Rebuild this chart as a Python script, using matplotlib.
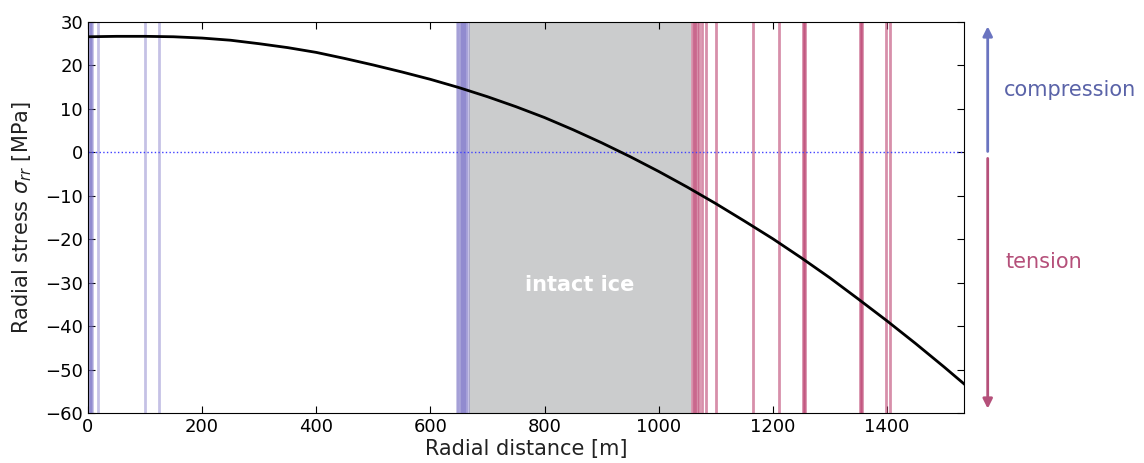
import numpy as np
import matplotlib
matplotlib.use('Agg')
import matplotlib.pyplot as plt

# stress profile
distance = [0, 50, 100, 150, 200, 250, 300, 350, 400, 450, 500, 550, 600, 650,
            700, 750, 800, 850, 900, 950, 1000, 1050, 1100, 1150, 1200, 1250,
            1300, 1350, 1400, 1450, 1500, 1535]
stress = [26.6, 26.7, 26.7, 26.6, 26.3, 25.8, 25.0, 24.1, 23.0, 21.6, 20.1,
          18.5, 16.8, 14.9, 12.8, 10.5, 8.0, 5.2, 2.2, -1.0, -4.4, -8.0,
          -11.8, -15.8, -19.9, -24.3, -28.9, -33.8, -38.8, -44.0, -49.4, -53.3]

# crevasse positions
compression_cracks = [1, 3, 5, 7, 17, 100, 125, 647, 649, 651, 653, 655, 657,
                      659, 661, 663, 666]
tension_cracks = [1058, 1061, 1064, 1067, 1070, 1075, 1082, 1101, 1166, 1211,
                  1252, 1255, 1257, 1353, 1355, 1357, 1398, 1406]
intact_start, intact_end = 668, 1057

blue = '#6e66c0'
red = '#bf4a76'

fig = plt.figure(figsize=(11.44, 4.63), dpi=100)
ax = fig.add_axes([0.0769, 0.108, 0.7658, 0.8445])

ax.axvspan(intact_start, intact_end, color='#cbcccd', lw=0)
for x in compression_cracks:
    ax.axvline(x, color=blue, alpha=0.4, lw=2)
for x in tension_cracks:
    ax.axvline(x, color=red, alpha=0.62, lw=2)

ax.axhline(0, color='#4040ff', ls=':', lw=1)
ax.plot(distance, stress, color='black', lw=2)

ax.text(862, -30.6, 'intact ice', color='white', fontsize=15,
        fontweight='bold', ha='center', va='center')

ax.set_xlim(0, 1535)
ax.set_ylim(-60, 30)
ax.set_xticks([0, 200, 400, 600, 800, 1000, 1200, 1400])
ax.set_yticks(np.arange(-60, 31, 10))
ax.tick_params(direction='in', top=True, right=True, labelsize=13, length=5)
ax.set_xlabel('Radial distance [m]', fontsize=15, color='#222222')
ax.set_ylabel(r'Radial stress $\sigma_{rr}$ [MPa]', fontsize=15, color='#222222')
ax.xaxis.labelpad = 2
ax.yaxis.labelpad = 8

# compression / tension arrows to the right of the axes
tr = ax.get_yaxis_transform()
ax.annotate('', xy=(1.027, 29.0), xytext=(1.027, 0.2), xycoords=tr,
            textcoords=tr, annotation_clip=False,
            arrowprops=dict(arrowstyle='-|>', color='#6a74c0', lw=2,
                            mutation_scale=14, shrinkA=0, shrinkB=0))
ax.annotate('', xy=(1.027, -59.0), xytext=(1.027, -1.4), xycoords=tr,
            textcoords=tr, annotation_clip=False,
            arrowprops=dict(arrowstyle='-|>', color='#b5507a', lw=2,
                            mutation_scale=14, shrinkA=0, shrinkB=0))
ax.text(1.045, 14.3, 'compression', transform=tr, color='#5a63a8',
        fontsize=15, va='center', ha='left')
ax.text(1.047, -25.3, 'tension', transform=tr, color='#b5507a',
        fontsize=15, va='center', ha='left')

plt.savefig('out.png', dpi=100)
